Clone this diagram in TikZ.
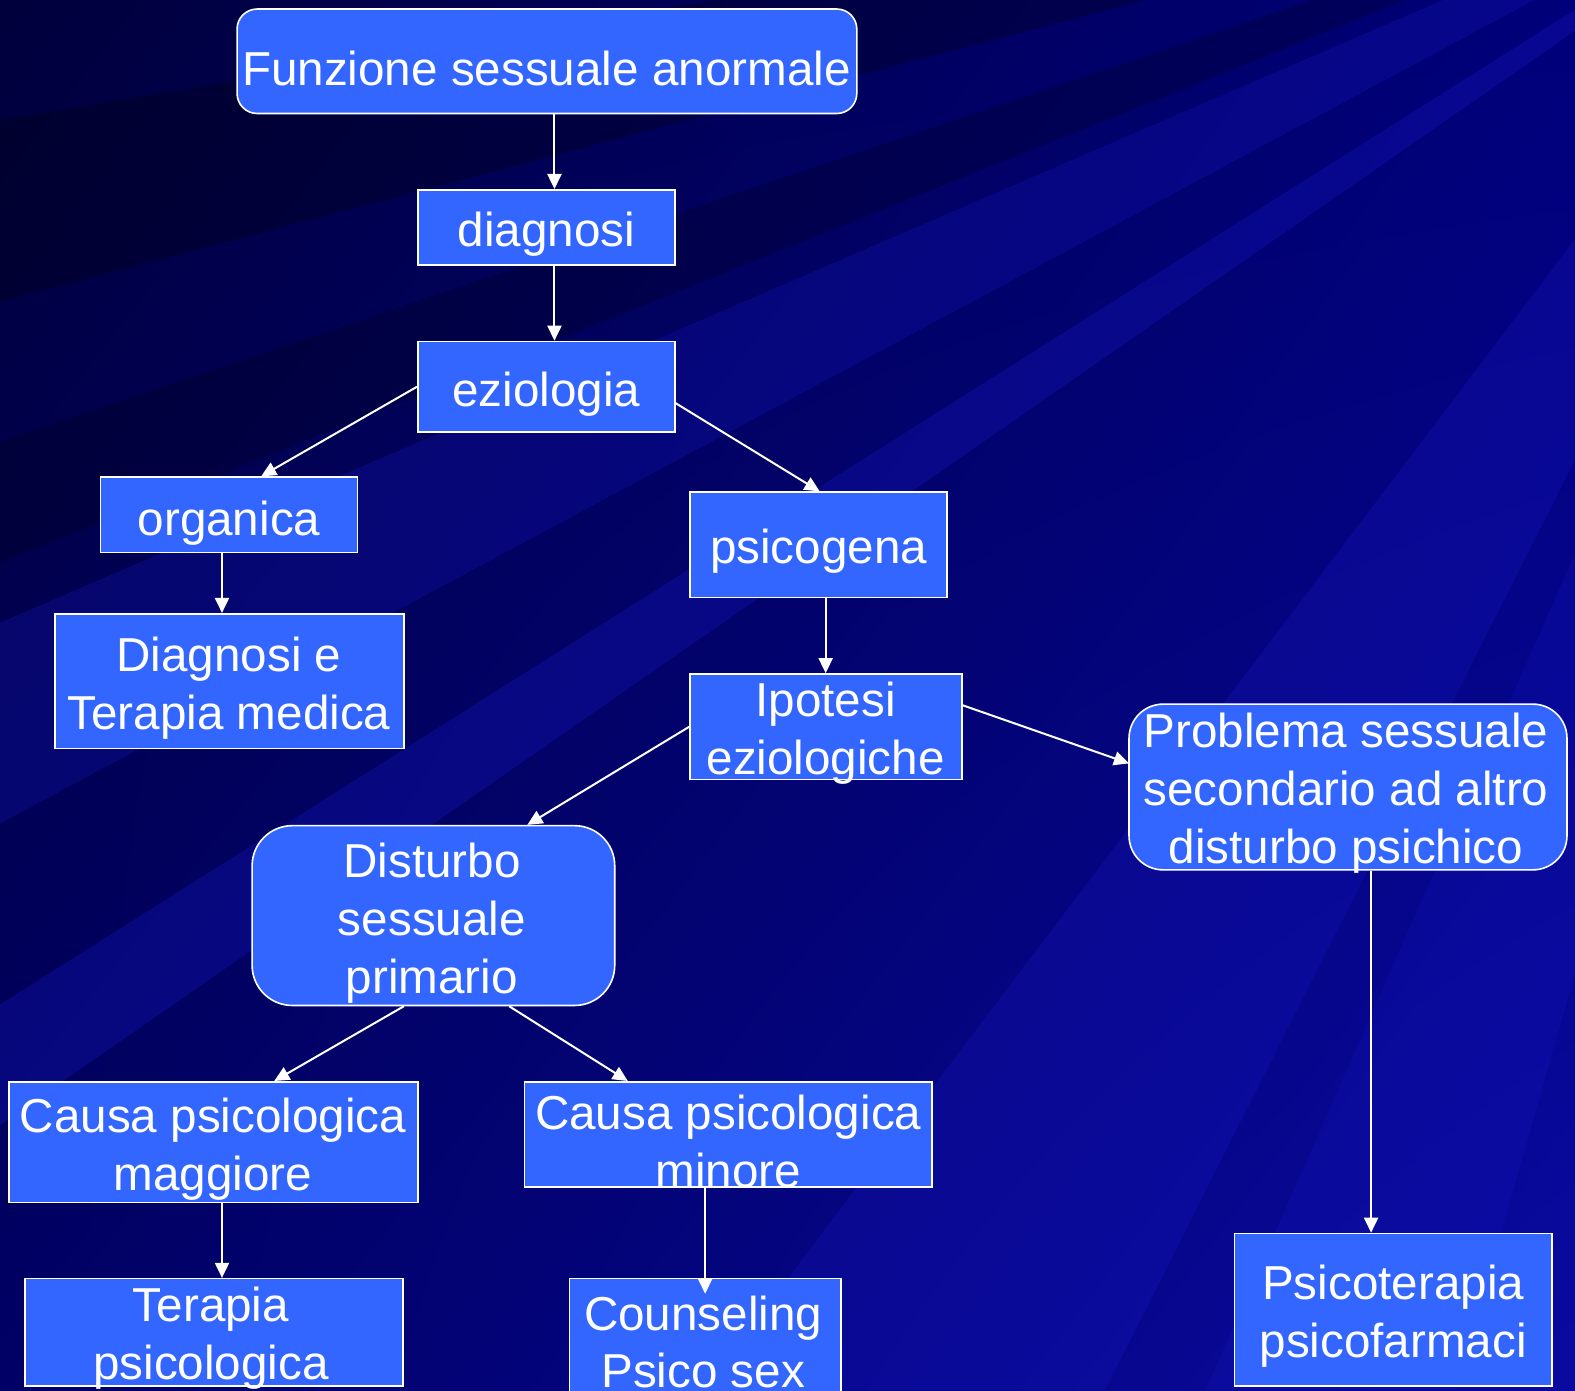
\documentclass[tikz,border=0pt]{standalone}
\usepackage{fontspec}
\setmainfont{Liberation Sans}
\usetikzlibrary{arrows.meta,fit,shadings}
\definecolor{boxblue}{HTML}{3366FF}
\definecolor{bgA}{HTML}{00003C}
\definecolor{bgB}{HTML}{00007A}
\definecolor{bgC}{HTML}{000066}
\definecolor{bgD}{HTML}{0A0AA0}
\definecolor{band}{HTML}{1818C8}
\begin{document}
\begin{tikzpicture}[x=0.5pt,y=-0.5pt,
  box/.style={draw=white, line width=0.8pt, fill=boxblue, rectangle, inner sep=0pt},
  rbox/.style={box, rounded corners=#1},
  txt/.style={text=white, align=center, inner sep=0pt, font=\fontsize{23.7}{28.8}\selectfont},
  conn/.style={draw=white, line width=1pt, -{Triangle[length=7.5pt,width=7pt]}}]
% background
\useasboundingbox (0,0) rectangle (1568,1384);
\shade[upper left=bgA, upper right=bgB, lower left=bgC, lower right=bgD] (0,0) rectangle (1568,1384);
\begin{scope}
\clip (0,0) rectangle (1568,1384);
\fill[band, opacity=0.25] (1900,-200) -- (0,620) -- (0,820) -- cycle;
\fill[band, opacity=0.30] (1900,-200) -- (0,1000) -- (0,1120) -- cycle;
\fill[band, opacity=0.25] (1900,-200) -- (700,1384) -- (1100,1384) -- cycle;
\fill[band, opacity=0.35] (1900,-200) -- (1568,1384) -- (1568,1000) -- cycle;
\fill[band, opacity=0.20] (1900,-200) -- (1200,1384) -- (1450,1384) -- cycle;
\fill[black, opacity=0.25] (1900,-200) -- (0,120) -- (0,300) -- cycle;
\fill[black, opacity=0.20] (1900,-200) -- (0,440) -- (0,560) -- cycle;
\fill[band, opacity=0.30] (1900,-200) -- (1568,400) -- (1568,700) -- cycle;
\end{scope}
% boxes
\node[rbox=10pt, fit={(236,9) (853,113)}] (fun) {};
\node[box, fit={(416,189) (672,264)}] (dia) {};
\node[box, fit={(416,340) (672,430)}] (ezi) {};
\node[box, fit={(100,475) (356,550)}] (org) {};
\node[box, fit={(687,490) (943,595)}] (psi) {};
\node[box, fit={(55,611) (402,745)}] (dtm) {};
\node[box, fit={(687,671) (958,776)}] (ipo) {};
\node[rbox=17pt, fit={(1124,701) (1560,866)}] (pro) {};
\node[rbox=20pt, fit={(251,822) (612,1001)}] (dis) {};
\node[box, fit={(9,1077) (416,1197)}] (cma) {};
\node[box, fit={(522,1077) (928,1182)}] (cmi) {};
\node[box, fit={(25,1273) (401,1380)}] (ter) {};
\node[box, fit={(567,1273) (837,1400)}] (cou) {};
\node[box, fit={(1229,1228) (1545,1380)}] (pst) {};
% texts
\node[txt] (tfun) at (544,68) {Funzione sessuale anormale};
\node[txt] (tdia) at (544,233) {diagnosi};
\node[txt] (tezi) at (544,392) {eziologia};
\node[txt] (torg) at (228,521) {organica};
\node[txt] (tpsi) at (815,549) {psicogena};
\node[txt] (tdtm) at (228,685) {Diagnosi e\\Terapia medica};
\node[txt] (tipo) at (822,730) {Ipotesi\\eziologiche};
\node[txt] (tpro) at (1340,790) {Problema sessuale\\secondario ad altro\\disturbo psichico};
\node[txt] (tdis) at (430,919) {Disturbo\\sessuale\\primario};
\node[txt] (tcma) at (212,1144) {Causa psicologica\\maggiore};
\node[txt] (tcmi) at (725,1136) {Causa psicologica\\minore};
\node[txt] (tter) at (210,1332) {Terapia\\psicologica};
\node[txt] (tcou) at (700,1336) {Counseling\\Psico sex};
\node[txt] (tpst) at (1387,1310) {Psicoterapia\\psicofarmaci};
% connectors
\draw[conn] (552,0 |- fun.south) -- (552,0 |- dia.north);
\draw[conn] (552,0 |- dia.south) -- (552,0 |- ezi.north);
\draw[conn] (ezi.west) -- (260,0 |- org.north);
\draw[conn] (672,401) -- (816,0 |- psi.north);
\draw[conn] (221,0 |- org.south) -- (221,0 |- dtm.north);
\draw[conn] (822,0 |- psi.south) -- (822,0 |- ipo.north);
\draw[conn] (ipo.west) -- (525,0 |- dis.north);
\draw[conn] (958,702) -- (1124,760);
\draw[conn] (402,0 |- dis.south) -- (273,0 |- cma.north);
\draw[conn] (507,0 |- dis.south) -- (625,0 |- cmi.north);
\draw[conn] (221,0 |- cma.south) -- (221,0 |- ter.north);
\draw[conn] (702,0 |- cmi.south) -- (702,1288);
\draw[conn] (1365,0 |- pro.south) -- (1365,0 |- pst.north);
\end{tikzpicture}
\end{document}
